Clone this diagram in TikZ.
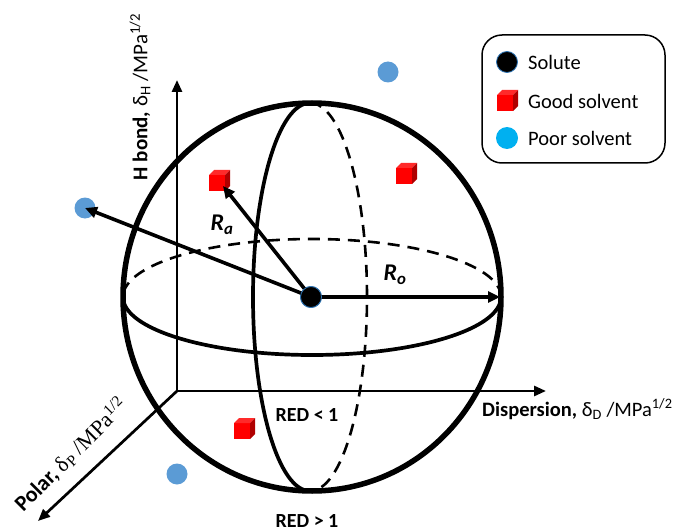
\documentclass[tikz,border=0pt]{standalone}
\usepackage{fontspec}
\setmainfont{Carlito}
\newfontfamily\serifgr{Liberation Serif}
\usetikzlibrary{arrows.meta}
\definecolor{cubered}{HTML}{FF0000}
\definecolor{cubedark}{HTML}{B00000}
\definecolor{cubetop}{HTML}{FF2A2A}
\definecolor{poorblue}{HTML}{5B9BD5}
\definecolor{legblue}{HTML}{00B0F0}
\definecolor{soluteedge}{HTML}{2E75B6}
\tikzset{
  goodcube/.pic={
    \fill[cubered] (-8,-8) rectangle (8,8);
    \fill[cubetop] (-8,-8) -- (-3,-13) -- (13,-13) -- (8,-8) -- cycle;
    \fill[cubedark] (8,-8) -- (13,-13) -- (13,3) -- (8,8) -- cycle;
  },
  poordot/.style={circle, fill=poorblue, minimum size=21pt, inner sep=0pt},
  solutedot/.style={circle, fill=black, draw=soluteedge, line width=0.8pt, minimum size=21pt, inner sep=0pt},
  axisline/.style={line width=2.7pt, -{Triangle[length=12pt,width=10pt]}},
  radarrow/.style={line width=3.6pt, -{Triangle[length=12pt,width=11pt]}},
  sphereline/.style={line width=5.5pt},
  gridline/.style={line width=3.7pt},
  hiddenline/.style={line width=2.6pt, dash pattern=on 12pt off 8pt},
  lab/.style={inner sep=0pt, font=\fontsize{21}{24}\selectfont},
  leg/.style={inner sep=0pt, anchor=west, font=\fontsize{20.5}{24}\selectfont},
}
\begin{document}
\begin{tikzpicture}[x=1pt,y=-1pt]
\useasboundingbox (0,0) rectangle (675,532);
% axes
\coordinate (O) at (177,391);
\coordinate (Htip) at (177,80);
\coordinate (Dtip) at (546,391);
\coordinate (Ptip) at (38,521);
\draw[axisline] (O) -- (Htip);
\draw[axisline] (O) -- (Dtip);
\draw[axisline] (O) -- (Ptip);
% sphere
\coordinate (C) at (312,297);
\draw[sphereline] (C) ellipse [x radius=189pt, y radius=194pt];
% equator
\coordinate (EqL) at (123,297);
\coordinate (EqR) at (501,297);
\draw[gridline] (EqL) arc[start angle=180, end angle=360, x radius=189pt, y radius=58pt];
\draw[hiddenline] (EqR) arc[start angle=0, end angle=180, x radius=189pt, y radius=58pt];
% meridian
\coordinate (MT) at (310,103);
\draw[gridline] (MT) arc[start angle=90, end angle=270, x radius=57pt, y radius=194pt];
\draw[hiddenline] (MT) arc[start angle=90, end angle=-90, x radius=57pt, y radius=194pt];
% solvents
\pic at (217,183) {goodcube};
\pic at (404,176) {goodcube};
\pic at (242,431) {goodcube};
\node[poordot] (p1) at (85,208) {};
\node[poordot] (p2) at (388,72) {};
\node[poordot] (p3) at (177,474) {};
\coordinate (g1) at (223,186);
\coordinate (RoEnd) at (500,297);
% solute and radii
\node[solutedot] (sol) at (311,297) {};
\draw[radarrow] (sol.center) -- (g1);
\draw[radarrow] (sol.center) -- (p1.center);
\draw[radarrow] (sol.center) -- (RoEnd);
\node[solutedot] at (311,297) {};
\node[lab, font=\fontsize{24}{26}\selectfont\bfseries\itshape] (Ra) at (222,225) {R\textsubscript{a}};
\node[lab, font=\fontsize{24}{26}\selectfont\bfseries\itshape] (Ro) at (395,275) {R\textsubscript{o}};
% labels
\node[lab, font=\fontsize{20}{24}\selectfont\bfseries] (red1) at (307,415) {RED < 1};
\node[lab, font=\fontsize{20}{24}\selectfont\bfseries] (red2) at (307,521) {RED > 1};
\node[lab, anchor=west, font=\fontsize{20.5}{24}\selectfont] (dlab) at (482,409) {\textbf{Dispersion,} δ\textsubscript{D} /MPa\textsuperscript{1/2}};
\node[lab, rotate=90] (hlab) at (140,97) {\textbf{H bond,} δ\textsubscript{H} /MPa\textsuperscript{1/2}};
\node[lab, rotate=45, font=\fontsize{22}{24}\selectfont] (plab) at (71,455) {\textbf{Polar,} {\serifgr δ\textsubscript{P} /MPa\textsuperscript{1/2}}};
% legend
\draw[line width=1.5pt, rounded corners=20pt] (482,35) rectangle (665,163);
\node[solutedot] (ls) at (507,62) {};
\pic at (505,103) {goodcube};
\node[circle, fill=legblue, minimum size=22pt, inner sep=0pt] (lp) at (507,138) {};
\node[leg] (t1) at (528,62) {Solute};
\node[leg] (t2) at (528,101) {Good solvent};
\node[leg] (t3) at (528,138) {Poor solvent};
\end{tikzpicture}
\end{document}
